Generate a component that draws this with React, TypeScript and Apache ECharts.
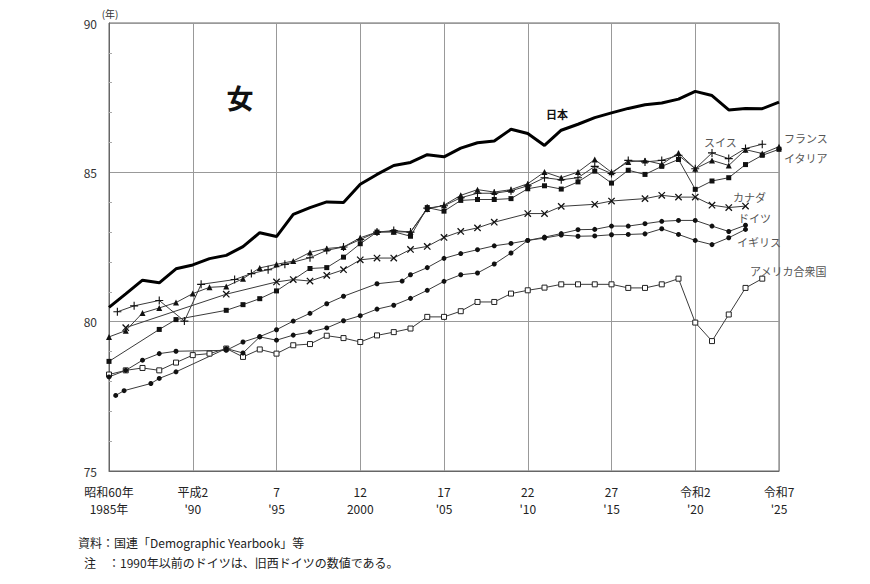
import { useEffect, useRef } from "react";
import * as echarts from "echarts";

const FONT = '"Noto Sans CJK JP", "Noto Sans", sans-serif';

// x-axis tick labels: era name (top line) and western year (bottom line)
const eraLabels = ["昭和60年", "平成2", "7", "12", "17", "22", "27", "令和2", "令和7"];
const westernLabels = ["1985年", "'90", "'95", "2000", "'05", "'10", "'15", "'20", "'25"];

// 日本
const japanYears = [1985, 1986, 1987, 1988, 1989, 1990, 1991, 1992, 1993, 1994, 1995, 1996, 1997, 1998, 1999, 2000, 2001, 2002, 2003, 2004, 2005, 2006, 2007, 2008, 2009, 2010, 2011, 2012, 2013, 2014, 2015, 2016, 2017, 2018, 2019, 2020, 2021, 2022, 2023, 2024, 2025];
const japanValues = [80.48, 80.93, 81.39, 81.3, 81.77, 81.9, 82.11, 82.22, 82.51, 82.98, 82.85, 83.59, 83.82, 84.01, 83.99, 84.6, 84.93, 85.23, 85.33, 85.59, 85.52, 85.81, 85.99, 86.05, 86.44, 86.3, 85.9, 86.41, 86.61, 86.83, 86.99, 87.14, 87.26, 87.32, 87.45, 87.71, 87.57, 87.09, 87.14, 87.13, 87.35];

// フランス
const franceYears = [1985, 1986, 1987, 1988, 1989, 1990, 1991, 1992, 1993, 1994, 1995, 1996, 1997, 1998, 1999, 2000, 2001, 2002, 2003, 2004, 2005, 2006, 2007, 2008, 2009, 2010, 2011, 2012, 2013, 2014, 2015, 2016, 2017, 2018, 2019, 2020, 2021, 2022, 2023, 2024, 2025];
const franceValues = [79.49, 79.7, 80.29, 80.46, 80.64, 80.94, 81.15, 81.18, 81.44, 81.8, 81.92, 82.03, 82.32, 82.45, 82.5, 82.81, 83.0, 83.01, 83.0, 83.77, 83.9, 84.23, 84.42, 84.34, 84.42, 84.62, 85.01, 84.82, 85.01, 85.43, 85.0, 85.35, 85.4, 85.27, 85.65, 85.12, 85.4, 85.23, 85.76, 85.63, 85.86];

// スイス
const swissYears = [1985.5, 1986.5, 1988, 1989.5, 1990.5, 1992.5, 1993.5, 1994.5, 1995.5, 1997, 1998, 1999, 2000, 2001, 2002, 2003, 2004, 2005, 2006, 2007, 2008, 2009, 2010, 2011, 2012, 2013, 2014, 2015, 2016, 2017, 2018, 2019, 2020, 2021, 2022, 2023, 2024];
const swissValues = [80.33, 80.53, 80.71, 80.02, 81.25, 81.41, 81.61, 81.74, 81.92, 82.14, 82.39, 82.5, 82.75, 83.0, 83.05, 83.0, 83.8, 83.88, 84.15, 84.3, 84.3, 84.38, 84.55, 84.82, 84.75, 84.82, 85.2, 84.96, 85.4, 85.35, 85.4, 85.57, 85.12, 85.65, 85.46, 85.8, 85.94];

// イタリア
const italyYears = [1985, 1988, 1989, 1992, 1993, 1994, 1995, 1997, 1998, 1999, 2000, 2001, 2002, 2003, 2004, 2005, 2006, 2007, 2008, 2009, 2010, 2011, 2012, 2013, 2014, 2015, 2016, 2017, 2018, 2019, 2020, 2021, 2022, 2023, 2024, 2025];
const italyValues = [78.67, 79.74, 80.07, 80.38, 80.57, 80.77, 81.03, 81.78, 81.81, 82.16, 82.61, 83.0, 83.01, 82.86, 83.82, 83.7, 84.06, 84.09, 84.09, 84.12, 84.45, 84.55, 84.44, 84.68, 85.04, 84.64, 85.07, 84.93, 85.2, 85.43, 84.43, 84.71, 84.82, 85.26, 85.57, 85.77];

// カナダ
const canadaYears = [1986, 1992, 1995, 1996, 1997, 1998, 1999, 2000, 2001, 2002, 2003, 2004, 2005, 2006, 2007, 2008, 2010, 2011, 2012, 2014, 2015, 2017, 2018, 2019, 2020, 2021, 2022, 2023];
const canadaValues = [79.8, 80.92, 81.33, 81.41, 81.36, 81.55, 81.74, 82.07, 82.13, 82.13, 82.42, 82.52, 82.82, 83.02, 83.14, 83.33, 83.62, 83.62, 83.86, 83.93, 84.04, 84.12, 84.23, 84.17, 84.17, 83.9, 83.82, 83.87];

// ドイツ (1990年以前は旧西ドイツ)
const germanyYears = [1985, 1986, 1987, 1988, 1989, 1992, 1993, 1994, 1995, 1996, 1997, 1998, 1999, 2001, 2002.5, 2003, 2004, 2005, 2006, 2007, 2008, 2009, 2010, 2011, 2012, 2013, 2014, 2015, 2016, 2017, 2018, 2019, 2020, 2021, 2022, 2023];
const germanyValues = [78.15, 78.37, 78.71, 78.93, 79.01, 79.04, 79.32, 79.5, 79.73, 80.02, 80.28, 80.6, 80.85, 81.27, 81.36, 81.57, 81.81, 82.12, 82.28, 82.41, 82.54, 82.62, 82.72, 82.83, 82.95, 83.08, 83.09, 83.2, 83.2, 83.28, 83.36, 83.39, 83.39, 83.2, 83.02, 83.23];

// イギリス
const ukYears = [1985.4, 1985.9, 1987.5, 1988, 1989, 1992, 1993, 1994, 1995, 1996, 1997, 1998, 1999, 2000, 2001, 2002, 2003, 2004, 2005, 2006, 2007, 2008, 2009, 2010, 2011, 2012, 2013, 2014, 2015, 2016, 2017, 2018, 2019, 2020, 2021, 2022, 2023];
const ukValues = [77.53, 77.69, 77.93, 78.1, 78.32, 79.1, 78.95, 79.49, 79.38, 79.55, 79.65, 79.79, 80.03, 80.2, 80.42, 80.55, 80.78, 81.05, 81.35, 81.57, 81.63, 81.93, 82.3, 82.72, 82.8, 82.9, 82.86, 82.87, 82.91, 82.92, 82.94, 83.11, 82.92, 82.72, 82.58, 82.81, 83.09];

// アメリカ合衆国
const usaYears = [1985, 1986, 1987, 1988, 1989, 1990, 1991, 1992, 1993, 1994, 1995, 1996, 1997, 1998, 1999, 2000, 2001, 2002, 2003, 2004, 2005, 2006, 2007, 2008, 2009, 2010, 2011, 2012, 2013, 2014, 2015, 2016, 2017, 2018, 2019, 2020, 2021, 2022, 2023, 2024];
const usaValues = [78.23, 78.37, 78.45, 78.37, 78.63, 78.88, 78.93, 79.1, 78.82, 79.07, 78.93, 79.21, 79.25, 79.53, 79.45, 79.32, 79.54, 79.65, 79.77, 80.16, 80.16, 80.35, 80.66, 80.66, 80.94, 81.05, 81.14, 81.25, 81.25, 81.25, 81.25, 81.13, 81.13, 81.25, 81.44, 79.97, 79.35, 80.24, 81.13, 81.44];

const pairs = (xs: number[], ys: number[]) => xs.map((x, i) => [x, ys[i]]);

// thin "+" glyph; rotated 45° it serves as the "×" marker
const PLUS = "path://M4.3,0H5.7V4.3H10V5.7H5.7V10H4.3V5.7H0V4.3H4.3Z";
const LINE_COLOR = "#3a3a3a";

function thinSeries(name: string, xs: number[], ys: number[], symbol: string, size: number, extra: any = {}) {
  return {
    name,
    type: "line",
    data: pairs(xs, ys),
    symbol,
    symbolSize: size,
    symbolKeepAspect: true,
    showSymbol: true,
    lineStyle: { color: LINE_COLOR, width: 1 },
    itemStyle: { color: "#111", borderWidth: 0 },
    emphasis: { disabled: true },
    z: 3,
    ...extra,
  };
}

export default function App() {
  const ref = useRef<HTMLDivElement>(null);

  useEffect(() => {
    if (!ref.current) return;
    const chart = echarts.init(ref.current, undefined, { renderer: "svg" });

    const labelStyle = { fontFamily: FONT, fontSize: 11, fill: "#555" };
    const label = (text: string, x: number, y: number, extra: any = {}) => ({
      type: "text",
      x,
      y,
      style: { text, ...labelStyle, textVerticalAlign: "middle", ...extra },
      z: 10,
    });

    chart.setOption({
      animation: false,
      backgroundColor: "#fff",
      grid: {
        left: 109,
        right: 91,
        top: 23,
        bottom: 113,
        show: true,
        borderColor: "#666",
        borderWidth: 1,
      },
      xAxis: {
        type: "value",
        min: 1985,
        max: 2025,
        interval: 5,
        axisLine: { lineStyle: { color: "#666", width: 1 } },
        axisTick: { show: false },
        splitLine: { show: true, lineStyle: { color: "#999", width: 1 } },
        axisLabel: {
          margin: 12,
          fontFamily: FONT,
          fontSize: 12,
          color: "#222",
          lineHeight: 17,
          formatter: (v: number) => {
            const i = Math.round((v - 1985) / 5);
            return `${eraLabels[i]}\n${westernLabels[i]}`;
          },
        },
      },
      yAxis: {
        type: "value",
        min: 75,
        max: 90,
        interval: 5,
        axisLine: { show: true, lineStyle: { color: "#666", width: 1 } },
        axisTick: { show: false, inside: true },
        minorTick: { show: true, splitNumber: 5, length: 3, lineStyle: { color: "#aaa" } },
        splitLine: { show: true, lineStyle: { color: "#999", width: 1 } },
        axisLabel: { margin: 12, fontFamily: FONT, fontSize: 12, color: "#333" },
      },
      series: [
        thinSeries("アメリカ合衆国", usaYears, usaValues, "rect", 5, {
          itemStyle: { color: "#fff", borderColor: "#222", borderWidth: 1 },
        }),
        thinSeries("イギリス", ukYears, ukValues, "circle", 5),
        thinSeries("ドイツ", germanyYears, germanyValues, "circle", 5),
        thinSeries("カナダ", canadaYears, canadaValues, PLUS, 9, { symbolRotate: 45 }),
        thinSeries("イタリア", italyYears, italyValues, "rect", 5),
        thinSeries("スイス", swissYears, swissValues, PLUS, 8),
        thinSeries("フランス", franceYears, franceValues, "triangle", 6),
        {
          name: "日本",
          type: "line",
          data: pairs(japanYears, japanValues),
          showSymbol: false,
          symbol: "none",
          lineStyle: { color: "#000", width: 3 },
          emphasis: { disabled: true },
          z: 5,
        },
      ],
      graphic: [
        { type: "text", x: 110, y: 13, style: { text: "(年)", fontFamily: FONT, fontSize: 10, fill: "#333", textAlign: "center", textVerticalAlign: "middle" } },
        { type: "text", x: 240, y: 97, style: { text: "女", fontFamily: FONT, fontSize: 27, fontWeight: "bold", fill: "#111", textAlign: "center", textVerticalAlign: "middle" } },
        label("日本", 546, 114, { fill: "#111", fontWeight: "bold" }),
        label("スイス", 704, 142),
        label("フランス", 784, 138),
        label("イタリア", 784, 158),
        label("カナダ", 733, 197),
        label("ドイツ", 738, 218),
        label("イギリス", 737, 242),
        label("アメリカ合衆国", 750, 271),
        { type: "text", x: 78, y: 542, style: { text: "資料：国連「Demographic Yearbook」等", fontFamily: FONT, fontSize: 12, fill: "#222", textVerticalAlign: "middle" } },
        { type: "text", x: 84, y: 562, style: { text: "注　：1990年以前のドイツは、旧西ドイツの数値である。", fontFamily: FONT, fontSize: 12, fill: "#222", textVerticalAlign: "middle" } },
      ],
    });

    return () => chart.dispose();
  }, []);

  return (
    <div
      ref={ref}
      style={{ position: "fixed", left: 0, top: 0, width: 870, height: 584, background: "#fff" }}
    />
  );
}
